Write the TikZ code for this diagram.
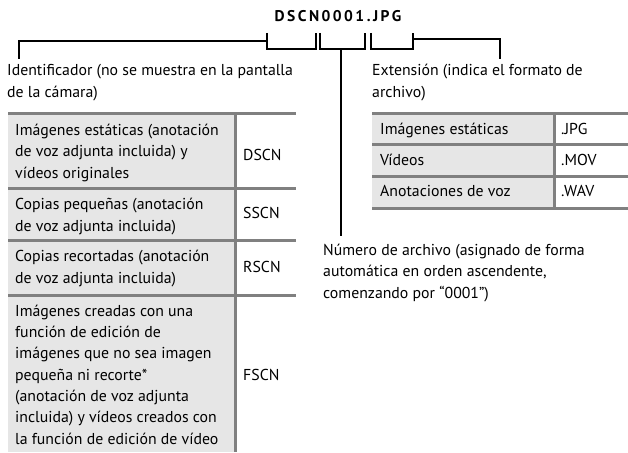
\documentclass[tikz,border=0pt]{standalone}
\usepackage{fontspec}
\setmainfont{PT Sans}
\newfontfamily\titlefont{PT Sans}[LetterSpace=16]
\usetikzlibrary{positioning,calc}
\definecolor{rulegray}{HTML}{808080}
\definecolor{cellgray}{HTML}{E6E6E6}
\tikzset{
  txt/.style={inner sep=0pt,anchor=base west,align=left,font=\fontsize{15.8}{21.3}\selectfont},
  code/.style={txt},
  titletxt/.style={inner sep=0pt,anchor=base,font=\titlefont\bfseries\fontsize{15.5}{17}\selectfont},
  rule/.style={draw=rulegray,line width=3pt},
  brk/.style={draw=black,line width=2pt}
}
\begin{document}
\begin{tikzpicture}[x=1pt,y=-1pt]
\useasboundingbox (0,0) rectangle (628,452);
% file name and its brackets
\node[titletxt] (fname) at (338,22) {DSCN0001.JPG};
\coordinate (idA) at (267,33); \coordinate (idB) at (316,33);
\coordinate (noA) at (320,33); \coordinate (noB) at (365,33);
\coordinate (exA) at (371,33); \coordinate (exB) at (413,33);
\coordinate (idjoin) at (267,41); \coordinate (exjoin) at (413,39);
\coordinate (nojoin) at (341,49);
\coordinate (idstem) at (19,59); \coordinate (exstem) at (500,59);
\coordinate (nostem) at (341,236);
\foreach \A/\B in {idA/idB,noA/noB,exA/exB}{\draw[brk] (\A) -- ++(0,16) -| (\B);}
\draw[brk] (idjoin) -| (idstem);
\draw[brk] (exjoin) -| (exstem);
\draw[brk] (nojoin) -- (nostem);
% labels (anchored on the baseline of the last line)
\node[txt] (idlbl) at (7,97) {Identificador (no se muestra en la pantalla\\de la cámara)};
\node[txt] (extlbl) at (372,97) {Extensión (indica el formato de\\archivo)};
\node[txt] (numlbl) at (323,298) {Número de archivo (asignado de forma\\automática en orden ascendente,\\comenzando por “0001”)};
% identifier table
\fill[cellgray] (8,113) rectangle (235,452);
\foreach \y in {113,188,240,295}{\draw[rule] (8,\y) -- (296,\y);}
\draw[rule] (235,113) -- (235,452);
\node[txt] (idrowa) at (15,178) {Imágenes estáticas (anotación\\de voz adjunta incluida) y\\vídeos originales};
\node[txt] (idrowb) at (15,231) {Copias pequeñas (anotación\\de voz adjunta incluida)};
\node[txt] (idrowc) at (15,283) {Copias recortadas (anotación\\de voz adjunta incluida)};
\node[txt] (idrowd) at (15,444) {Imágenes creadas con una\\función de edición de\\imágenes que no sea imagen\\pequeña ni recorte*\\(anotación de voz adjunta\\incluida) y vídeos creados con\\la función de edición de vídeo};
\node[code] (codea) at (243,160) {DSCN};
\node[code] (codeb) at (243,218) {SSCN};
\node[code] (codec) at (243,272) {RSCN};
\node[code] (coded) at (243,380) {FSCN};
% extension table
\fill[cellgray] (372,113) rectangle (554,208);
\foreach \y in {113,144,176,208}{\draw[rule] (372,\y) -- (628,\y);}
\draw[rule] (554,113) -- (554,208);
\node[txt] (exrowa) at (380,134) {Imágenes estáticas};
\node[txt] (exrowb) at (380,165) {Vídeos};
\node[txt] (exrowc) at (380,196) {Anotaciones de voz};
\node[code] (extA) at (561,134) {.JPG};
\node[code] (extB) at (561,165) {.MOV};
\node[code] (extC) at (561,196) {.WAV};
\end{tikzpicture}
\end{document}
